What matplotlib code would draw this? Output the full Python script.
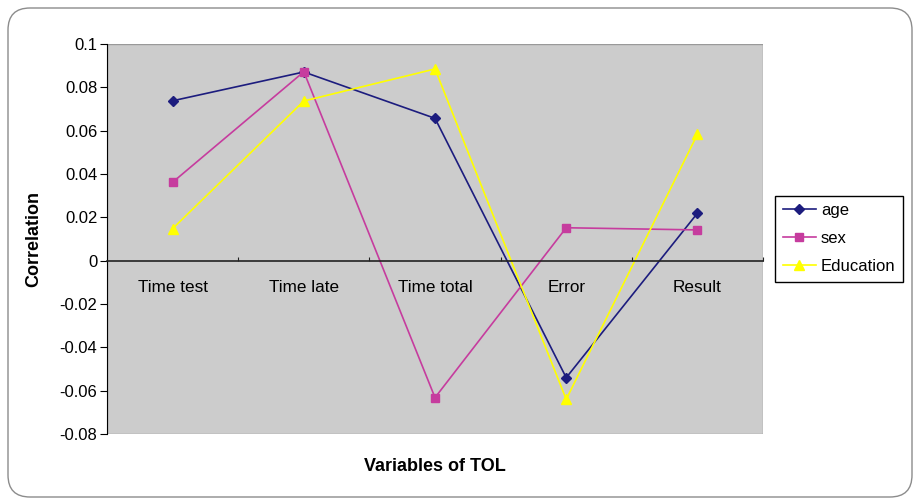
import matplotlib
matplotlib.use('Agg')
from matplotlib import pyplot as plt
from matplotlib.patches import FancyBboxPatch, Rectangle
from matplotlib.ticker import FixedLocator, FormatStrFormatter

categories = ['Time test', 'Time late', 'Time total', 'Error', 'Result']
age = [0.0738, 0.0871, 0.0657, -0.0540, 0.0219]
sex = [0.0362, 0.0872, -0.0632, 0.0152, 0.0142]
education = [0.0148, 0.0737, 0.0885, -0.0640, 0.0583]
y_ticks = [-0.08, -0.06, -0.04, -0.02, 0, 0.02, 0.04, 0.06, 0.08, 0.1]

plt.rcParams['font.family'] = ['Liberation Sans', 'DejaVu Sans']
plt.rcParams['font.size'] = 12

fig = plt.figure(figsize=(9.14, 4.98), dpi=100)
ax = fig.add_axes([0.1171, 0.1285, 0.7177, 0.7831])

# rounded outer frame
frame = FancyBboxPatch((0.08, 0.01), 9.04, 4.89,
                       boxstyle='round,pad=0,rounding_size=0.22',
                       transform=fig.dpi_scale_trans, fill=False,
                       edgecolor='#8c8c8c', linewidth=1.0)
fig.patches.append(frame)

ax.set_facecolor('#cccccc')
x = range(len(categories))
ax.plot(x, age, color='#1c1c7e', marker='D', markersize=5, linewidth=1.2, label='age')
ax.plot(x, sex, color='#c63c9e', marker='s', markersize=5.5, linewidth=1.2, label='sex')
ax.plot(x, education, color='#ffff00', marker='^', markersize=7, linewidth=1.2, label='Education')

ax.set_xlim(-0.5, len(categories) - 0.5)
ax.set_ylim(-0.08, 0.1)

# plot area outline
ax.add_patch(Rectangle((0, 0), 1, 1, transform=ax.transAxes, fill=False,
                       edgecolor='#999999', linewidth=1.0, zorder=0.5))
for side in ['top', 'right']:
    ax.spines[side].set_visible(False)
ax.spines['left'].set_color('black')
ax.spines['bottom'].set_position(('data', 0))
ax.spines['bottom'].set_color('#222222')
ax.spines['bottom'].set_linewidth(1.2)

ax.yaxis.set_major_locator(FixedLocator(y_ticks))
ax.yaxis.set_major_formatter(FormatStrFormatter('%g'))
ax.tick_params(axis='y', direction='out', length=5, pad=2, labelsize=12)

ax.xaxis.set_major_locator(FixedLocator([i + 0.5 for i in x]))
ax.xaxis.set_minor_locator(FixedLocator(list(x)))
ax.xaxis.set_major_formatter(plt.NullFormatter())
ax.set_xticks(list(x), categories, minor=True)
ax.tick_params(axis='x', which='major', direction='in', length=3, color='#222222')
ax.tick_params(axis='x', which='minor', length=0, pad=14, labelsize=12.3)

ax.set_ylabel('Correlation', fontweight='bold', fontsize=13)
ax.yaxis.set_label_coords(-0.098, 0.5)
ax.set_xlabel('Variables of TOL', fontweight='bold', fontsize=13)
ax.xaxis.set_label_coords(0.5, -0.062)

leg = ax.legend(loc='upper left', bbox_to_anchor=(0.848, 0.607),
                bbox_transform=fig.transFigure, borderaxespad=0,
                fancybox=False, edgecolor='black', framealpha=1,
                handlelength=2.0, handletextpad=0.3, borderpad=0.45,
                labelspacing=0.78, fontsize=12)
leg.get_frame().set_linewidth(1.0)

fig.savefig('out.png', dpi=100)
